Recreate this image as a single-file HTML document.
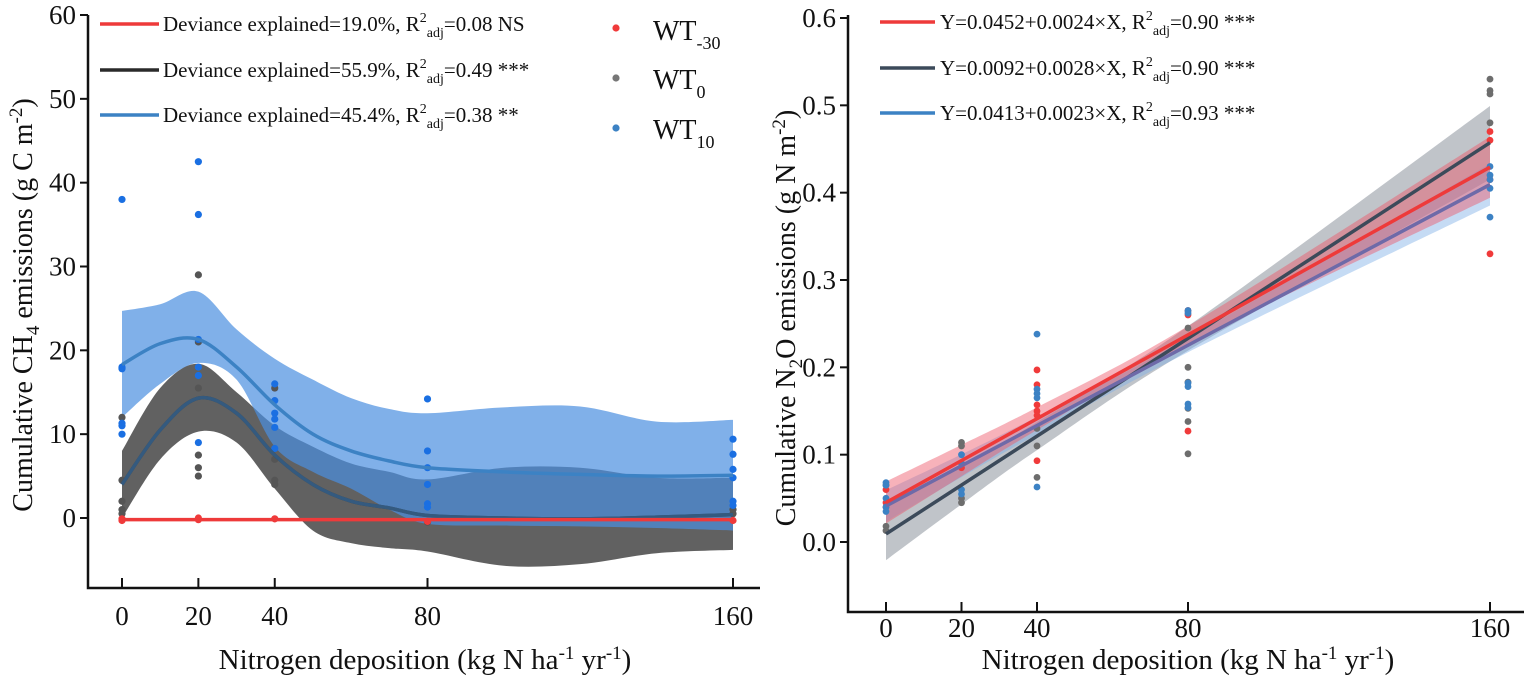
<!DOCTYPE html>
<html><head><meta charset="utf-8"><style>
body{margin:0;background:#fff}
svg{display:block;font-family:"Liberation Serif",serif}
</style></head><body>
<svg id="c" width="1526" height="677" viewBox="0 0 1526 677"></svg>
<script>
// ---------- Left chart data (CH4) ----------
const xTicks=[0,20,40,80,160];
const ch4YTicks=[0,10,20,30,40,50,60];
const gamX=[0,10,20,30,40,50,60,70,80,100,120,140,160];
const wt10Fit=[18.3,20.8,21.3,18,13.5,10,8,6.8,6,5.5,5.2,5.0,5.1];
const wt10Up=[24.7,25.5,27,22.5,19,16.5,14.3,13,12.5,13.2,13.3,11.5,11.7];
const wt10Lo=[12,16,18.5,16.5,8.5,5.5,3.5,1.0,-0.7,-0.9,-1,-1.2,-1.5];
const wt0Fit=[4,10.5,14.3,12.5,7.5,4,2,1.2,0.3,0,-0.1,0.1,0.4];
const wt0Up=[8,15.5,18.4,15,11,8.5,6.5,5.5,4.6,6,6,4.8,4.8];
const wt0Lo=[0,7,10.3,9,3.5,-1.5,-3,-3.6,-4,-5.7,-5.5,-4.2,-3.8];
const wtm30Fit=[-0.2,-0.2,-0.2,-0.2,-0.2,-0.2,-0.2,-0.2,-0.2,-0.2,-0.2,-0.2,-0.2];
const ch4PtsRedX=[0,0,20,20,40,80,160];
const ch4PtsRedY=[-0.3,-0.1,-0.2,0,-0.1,-0.4,-0.3];
const ch4PtsGrayX=[0,0,0,0,0,20,20,20,20,20,20,40,40,40,40,80,160,160];
const ch4PtsGrayY=[12,4.5,2,1,0.5,29,21,15.5,7.5,6,5,15.5,7,4.5,4,-0.5,0.5,1];
const ch4PtsBlueX=[0,0,0,0,0,0,20,20,20,20,20,20,40,40,40,40,40,40,80,80,80,80,80,80,160,160,160,160,160,160];
const ch4PtsBlueY=[38,18,17.8,11.3,11,10,42.5,36.2,21.3,18,17,9,16,14,12.5,11.8,10.8,8.3,14.2,8,6,4,1.7,1.3,9.4,7.6,5.8,4.8,2,1.5];
// ---------- Right chart data (N2O) ----------
const n2oYTicks=[0.0,0.1,0.2,0.3,0.4,0.5,0.6];
const intercepts=[0.0452,0.0092,0.0413];
const slopes=[0.0024,0.0028,0.0023];
const ciX=[0,20,40,80,160];
const ciHalfRed=[0.024,0.018,0.013,0.01,0.035];
const ciHalfGray=[0.03,0.022,0.016,0.014,0.042];
const ciHalfBlue=[0.018,0.013,0.01,0.008,0.024];
const n2oRedX=[0,0,0,20,20,40,40,40,40,40,40,80,80,80,160,160,160,160];
const n2oRedY=[0.06,0.045,0.04,0.09,0.085,0.197,0.18,0.157,0.15,0.145,0.093,0.265,0.26,0.127,0.47,0.46,0.415,0.33];
const n2oGrayX=[0,0,0,20,20,20,20,40,40,40,80,80,80,80,80,80,160,160,160,160];
const n2oGrayY=[0.018,0.013,0.065,0.114,0.11,0.05,0.045,0.13,0.11,0.074,0.245,0.2,0.183,0.153,0.138,0.101,0.53,0.517,0.513,0.48];
const n2oBlueX=[0,0,0,0,0,20,20,20,20,40,40,40,40,40,80,80,80,80,80,80,160,160,160,160,160];
const n2oBlueY=[0.068,0.065,0.05,0.04,0.035,0.1,0.09,0.06,0.055,0.238,0.175,0.17,0.165,0.063,0.265,0.262,0.182,0.178,0.158,0.154,0.43,0.42,0.415,0.405,0.372];

const NS="http://www.w3.org/2000/svg";
const svg=document.getElementById('c');
function el(tag,attrs,parent){const e=document.createElementNS(NS,tag);for(const k in attrs)e.setAttribute(k,attrs[k]);(parent||svg).appendChild(e);return e;}
const lx=v=>122+v*(733-122)/160, ly=v=>518-v*(518-15)/60;
const rx=v=>886+v*(1490-886)/160, ry=v=>542-v*(542-18)/0.6;
function smooth(pts){let d='M'+pts[0][0]+','+pts[0][1];for(let i=0;i<pts.length-1;i++){const p0=pts[Math.max(0,i-1)],p1=pts[i],p2=pts[i+1],p3=pts[Math.min(pts.length-1,i+2)];d+=' C'+(p1[0]+(p2[0]-p0[0])/6)+','+(p1[1]+(p2[1]-p0[1])/6)+' '+(p2[0]-(p3[0]-p1[0])/6)+','+(p2[1]-(p3[1]-p1[1])/6)+' '+p2[0]+','+p2[1];}return d;}
function band(xs,up,lo,fx,fy){const a=xs.map((x,i)=>[fx(x),fy(up[i])]);const b=xs.map((x,i)=>[fx(x),fy(lo[i])]).reverse();return smooth(a)+' L'+smooth(b).slice(1)+' Z';}

const L=el('g',{},svg);

let p=el('path',{d:band(gamX,wt0Up,wt0Lo,lx,ly),fill:'#3a3a3a','fill-opacity':0.8},L);

p=el('path',{d:band(gamX,wt10Up,wt10Lo,lx,ly),fill:'#4a8fe0','fill-opacity':0.7},L);

function ptsDraw(xs,ys,fx,fy,col,name,g,r){xs.forEach((x,i)=>{const c=el('circle',{cx:fx(x),cy:fy(ys[i]),r:r||3.6,fill:col},g);});}
ptsDraw(ch4PtsGrayX,ch4PtsGrayY,lx,ly,'#555','wt0-point',L);
ptsDraw(ch4PtsBlueX,ch4PtsBlueY,lx,ly,'#1a6fe2','wt10-point',L);
ptsDraw(ch4PtsRedX,ch4PtsRedY,lx,ly,'#f03a3a','wt-30-point',L);
function line(xs,ys,fx,fy,col,name,g){const c=el('path',{d:smooth(xs.map((x,i)=>[fx(x),fy(ys[i])])),fill:'none',stroke:col,'stroke-width':3.5},g);}
line(gamX,wt0Fit,lx,ly,'#2a2a2a','wt0-fit-line',L);
line(gamX,wt0Fit,lx,ly,'rgba(60,130,196,0.55)','wt0-fit-line-overlay',L);
line(gamX,wtm30Fit,lx,ly,'#ee3a3a','wt-30-fit-line',L);
line(gamX,wt10Fit,lx,ly,'#3c82c4','wt10-fit-line',L);
function axes(g,x0,x1,y0,y1,fx,fy,xt,yt,fmt,name,lblOff){
 let a=el('path',{d:`M${x0},${y0} V${y1} H${x1}`,fill:'none',stroke:'#111','stroke-width':2.5},g);
 yt.forEach(v=>{el('line',{x1:x0-8,x2:x0,y1:fy(v),y2:fy(v),stroke:'#111','stroke-width':2},g);const t=el('text',{x:x0-12,y:fy(v)+9,'text-anchor':'end','font-size':27,fill:'#111'},g);t.textContent=fmt(v);});
 xt.forEach(v=>{el('line',{x1:fx(v),x2:fx(v),y1:y1-10,y2:y1,stroke:'#111','stroke-width':2},g);const t=el('text',{x:fx(v),y:y1+lblOff,'text-anchor':'middle','font-size':27,fill:'#111'},g);t.textContent=v;});
}
axes(L,88,760,15,588,lx,ly,xTicks,ch4YTicks,v=>v,'ch4',37);
const R=el('g',{},svg);

const hw=[ciHalfRed,ciHalfGray,ciHalfBlue];
const bandCols=['#ee5566','#4a5564','#7fb0e6'],bandOp=[0.45,0.35,0.45];
[1,2,0].forEach(k=>{const fit=ciX.map(x=>intercepts[k]+slopes[k]*x);
 const b=el('path',{d:band(ciX,fit.map((v,i)=>v+hw[k][i]),fit.map((v,i)=>v-hw[k][i]),rx,ry),fill:bandCols[k],'fill-opacity':bandOp[k]},R);
 });
ptsDraw(n2oGrayX,n2oGrayY,rx,ry,'#6d6d6d','wt0-point',R,3.4);
ptsDraw(n2oRedX,n2oRedY,rx,ry,'#f03a3a','wt-30-point',R,3.4);
ptsDraw(n2oBlueX,n2oBlueY,rx,ry,'#3c82c4','wt10-point',R,3.4);
const lineCols=['#ee3a3a','#3c4a5a','#6e6aa8'];
[1,2,0].forEach(k=>{const l=el('line',{x1:rx(0),y1:ry(intercepts[k]),x2:rx(160),y2:ry(intercepts[k]+slopes[k]*160),stroke:lineCols[k],'stroke-width':3.5},R);});
axes(R,848,1524,15,612,rx,ry,xTicks,n2oYTicks,v=>v.toFixed(1),'n2o',25);
</script>
<svg width="1526" height="677" style="position:absolute;left:0;top:0" font-family="Liberation Serif, serif" fill="#111">
 <text transform="translate(32,305) rotate(-90)" text-anchor="middle" font-size="28">Cumulative CH<tspan font-size="19" dy="7">4</tspan><tspan dy="-7"> emissions (g C m</tspan><tspan font-size="19" dy="-10">-2</tspan><tspan dy="10">)</tspan></text>
 <text x="425" y="669" text-anchor="middle" font-size="29">Nitrogen deposition (kg N ha<tspan font-size="19" dy="-10">-1</tspan><tspan dy="10"> yr</tspan><tspan font-size="19" dy="-10">-1</tspan><tspan dy="10">)</tspan></text>
 <text transform="translate(795,318) rotate(-90)" text-anchor="middle" font-size="28">Cumulative N<tspan font-size="19" dy="7">2</tspan><tspan dy="-7">O emissions (g N m</tspan><tspan font-size="19" dy="-10">-2</tspan><tspan dy="10">)</tspan></text>
 <text x="1188" y="669" text-anchor="middle" font-size="29">Nitrogen deposition (kg N ha<tspan font-size="19" dy="-10">-1</tspan><tspan dy="10"> yr</tspan><tspan font-size="19" dy="-10">-1</tspan><tspan dy="10">)</tspan></text>
 <g font-size="21">
  <line x1="100" y1="24" x2="159" y2="24" stroke="#ee3a3a" stroke-width="3.5"/>
  <text x="163" y="31">Deviance explained=19.0%, R<tspan font-size="14" dy="-9">2</tspan><tspan font-size="14" dy="15">adj</tspan><tspan dy="-6">=0.08 NS</tspan></text>
  <line x1="100" y1="70" x2="159" y2="70" stroke="#2a2a2a" stroke-width="3.5"/>
  <text x="163" y="77">Deviance explained=55.9%, R<tspan font-size="14" dy="-9">2</tspan><tspan font-size="14" dy="15">adj</tspan><tspan dy="-6">=0.49 ***</tspan></text>
  <line x1="100" y1="115" x2="159" y2="115" stroke="#3c82c4" stroke-width="3.5"/>
  <text x="163" y="122">Deviance explained=45.4%, R<tspan font-size="14" dy="-9">2</tspan><tspan font-size="14" dy="15">adj</tspan><tspan dy="-6">=0.38 **</tspan></text>
  <circle cx="616" cy="28" r="3.6" fill="#f03a3a"/><text x="653" y="40" font-size="28">WT<tspan font-size="18" dy="9">-30</tspan></text>
  <circle cx="616" cy="78" r="3.6" fill="#777"/><text x="653" y="89" font-size="28">WT<tspan font-size="18" dy="9">0</tspan></text>
  <circle cx="616" cy="128" r="3.6" fill="#3c82c4"/><text x="653" y="139" font-size="28">WT<tspan font-size="18" dy="9">10</tspan></text>
 </g>
 <g font-size="21">
  <line x1="880" y1="22" x2="935" y2="22" stroke="#ee3a3a" stroke-width="3.5"/>
  <text x="940" y="29">Y=0.0452+0.0024×X, R<tspan font-size="14" dy="-9">2</tspan><tspan font-size="14" dy="15">adj</tspan><tspan dy="-6">=0.90 ***</tspan></text>
  <line x1="880" y1="68" x2="935" y2="68" stroke="#3c4a5a" stroke-width="3.5"/>
  <text x="940" y="75">Y=0.0092+0.0028×X, R<tspan font-size="14" dy="-9">2</tspan><tspan font-size="14" dy="15">adj</tspan><tspan dy="-6">=0.90 ***</tspan></text>
  <line x1="880" y1="113" x2="935" y2="113" stroke="#3c82c4" stroke-width="3.5"/>
  <text x="940" y="120">Y=0.0413+0.0023×X, R<tspan font-size="14" dy="-9">2</tspan><tspan font-size="14" dy="15">adj</tspan><tspan dy="-6">=0.93 ***</tspan></text>
 </g>
</svg>
</body></html>
